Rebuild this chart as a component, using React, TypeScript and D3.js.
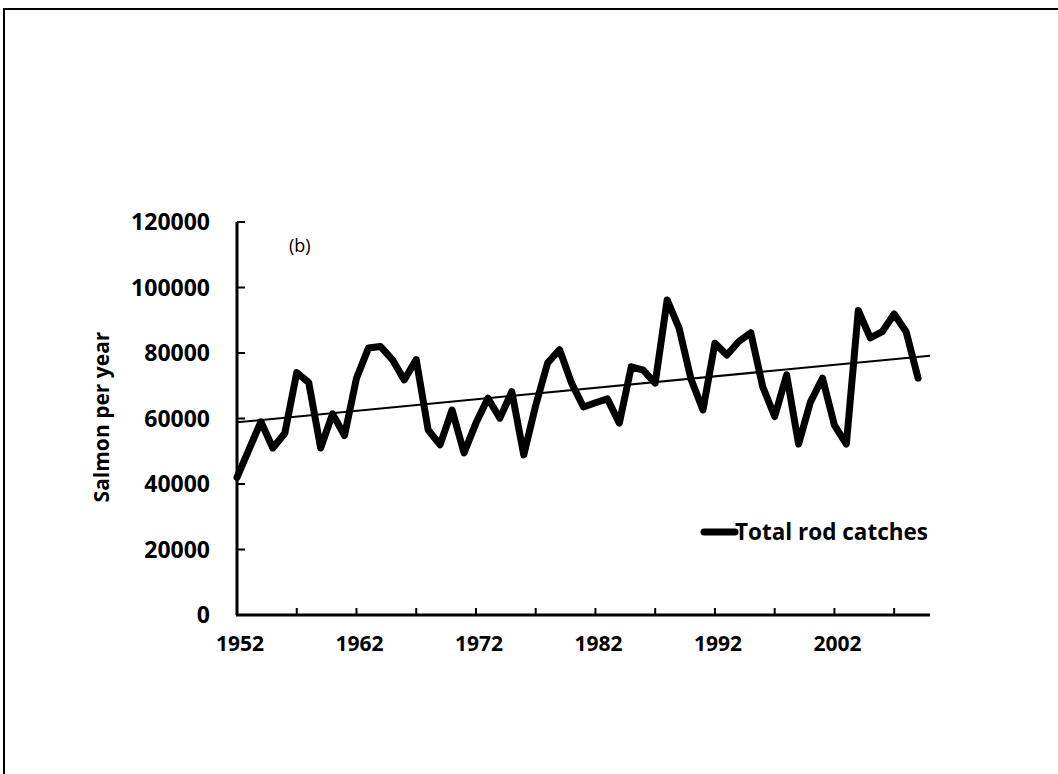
import React from 'react';
import * as d3 from 'd3';

// years 1952..2009, total rod catches
const years: number[] = d3.range(1952, 2010);
const catches: number[] = [
  42000, 50500, 59000, 51000, 55500, 74000, 71000, 51000, 61400, 54800,
  72300, 81500, 82000, 78000, 71800, 78000, 56500, 52000, 62600, 49500,
  58600, 66200, 60100, 68200, 48900, 64000, 77000, 81000, 70800, 63500,
  64800, 66000, 58600, 75800, 74800, 70800, 96200, 87600, 72000, 62600,
  83000, 79400, 83500, 86200, 69700, 60600, 73300, 52200, 65100, 72300,
  58000, 52200, 93000, 84600, 86500, 91900, 86500, 72300,
];
const yTicks: number[] = [0, 20000, 40000, 60000, 80000, 100000, 120000];
const xLabelYears: number[] = [1952, 1962, 1972, 1982, 1992, 2002];
const xTickYears: number[] = d3.range(1952, 2010, 5);
const trendYears: number[] = [1952, 2010];

const W = 1058;
const H = 774;
const font = '"Open Sans", sans-serif';

export default function App() {
  const x = d3.scaleLinear().domain([1952, 2010]).range([237, 930]);
  const y = d3.scaleLinear().domain([0, 120000]).range([615, 222]);

  const pts = years.map((yr, i) => ({ yr, v: catches[i] }));
  const line = d3.line<{ yr: number; v: number }>()
    .x(d => x(d.yr))
    .y(d => y(d.v));

  // least squares trend
  const mx = d3.mean(years) as number;
  const my = d3.mean(catches) as number;
  let sxy = 0, sxx = 0;
  years.forEach((yr, i) => {
    sxy += (yr - mx) * (catches[i] - my);
    sxx += (yr - mx) * (yr - mx);
  });
  const slope = sxy / sxx;
  const trend = trendYears.map(yr => ({ yr, v: my + slope * (yr - mx) }));

  return (
    <svg width={W} height={H} style={{ position: 'absolute', left: 0, top: 0, background: '#fff' }}>
      <rect x={4} y={9} width={W + 20} height={H + 20} fill="#fff" stroke="#000" strokeWidth={2} />

      {/* y axis */}
      <line x1={237} x2={237} y1={y(120000)} y2={y(0)} stroke="#000" strokeWidth={3} />
      {yTicks.map(t => (
        <g key={t}>
          <line x1={237} x2={245} y1={y(t)} y2={y(t)} stroke="#000" strokeWidth={2} />
          <text x={210} y={y(t)} dy="0.36em" textAnchor="end" fontFamily={font}
            fontWeight="bold" fontSize={23}>{t}</text>
        </g>
      ))}

      {/* x axis */}
      <line x1={236} x2={x(2010)} y1={y(0)} y2={y(0)} stroke="#000" strokeWidth={3} />
      {xTickYears.map(t => (
        <line key={t} x1={x(t)} x2={x(t)} y1={y(0) - 7} y2={y(0)} stroke="#000" strokeWidth={2} />
      ))}
      {xLabelYears.map(t => (
        <text key={t} x={x(t) + 3} y={643} dy="0.36em" textAnchor="middle" fontFamily={font}
          fontWeight="bold" fontSize={21}>{t}</text>
      ))}

      <text transform="translate(109,417) rotate(-90)" textAnchor="middle" fontFamily={font}
        fontWeight="bold" fontSize={21}>Salmon per year</text>

      <text x={289} y={252} fontFamily={font} fontSize={18}>(b)</text>

      <path d={line(trend) || ''} fill="none" stroke="#000" strokeWidth={2} />
      <path d={line(pts) || ''} fill="none" stroke="#000" strokeWidth={7} strokeLinejoin="round" strokeLinecap="round" />

      {/* legend */}
      <line x1={704} x2={735} y1={532} y2={532} stroke="#000" strokeWidth={7} strokeLinecap="round" />
      <text x={735} y={532} dy="0.36em" fontFamily={font} fontWeight="bold" fontSize={22.5}>Total rod catches</text>
    </svg>
  );
}
